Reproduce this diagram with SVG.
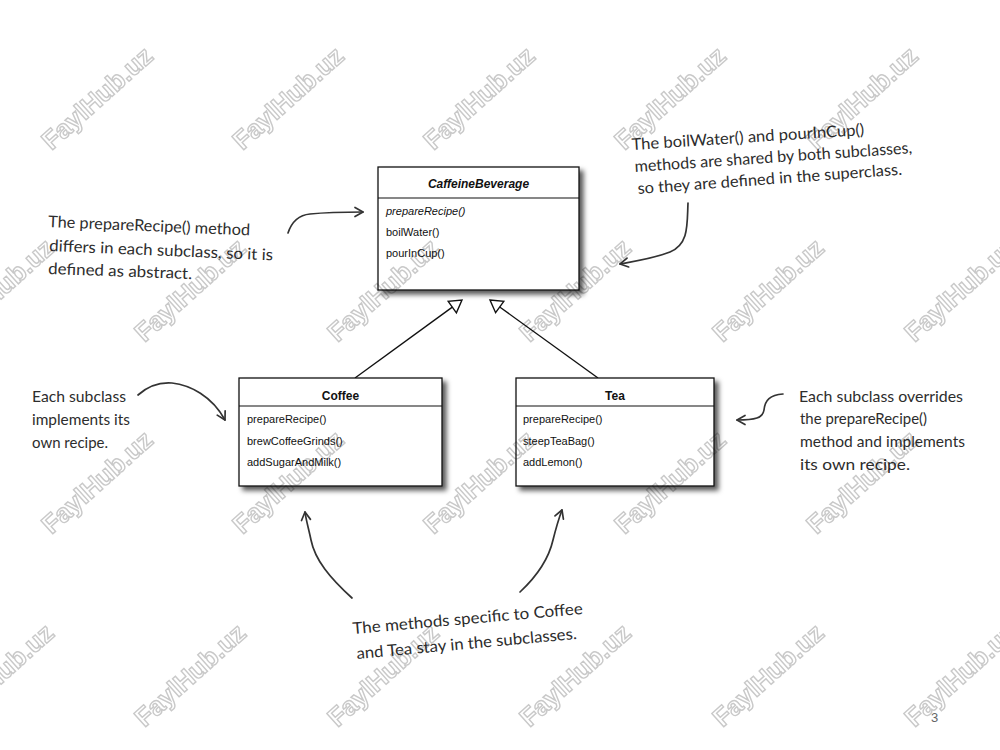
<svg xmlns="http://www.w3.org/2000/svg" width="1000" height="750" viewBox="0 0 1000 750">
  <style>
    .box { fill: #ffffff; stroke: #111; stroke-width: 1.3; }
    .sep { stroke: #111; stroke-width: 1.1; }
    .title { font-family: "Liberation Sans", Arial, sans-serif; font-size: 12px; font-weight: bold; fill: #111; text-anchor: middle; }
    .meth { font-family: "Liberation Sans", Arial, sans-serif; font-size: 11px; fill: #111; }
    .note { font-family: "Lato", "Noto Sans", sans-serif; font-size: 16px; fill: #2d2d2d; }
    .hand { fill: none; stroke: #333; stroke-width: 1.7; stroke-linecap: round; }
    .inh { fill: none; stroke: #111; stroke-width: 1.4; }
    .tri { fill: #fff; stroke: #111; stroke-width: 1.4; stroke-linejoin: miter; }
    .wm { font-family: "Liberation Sans", Arial, sans-serif; font-size: 26px; font-weight: bold; fill: #ffffff; stroke: #c9c9c9; stroke-width: 1.4; text-anchor: middle; dominant-baseline: central; }
    .page { font-family: "Liberation Sans", Arial, sans-serif; font-size: 13px; fill: #666; }
  </style>
  <defs>
    <filter id="shadow" x="-10%" y="-10%" width="125%" height="130%">
      <feDropShadow dx="4" dy="4" stdDeviation="2.5" flood-color="#000" flood-opacity="0.65"/>
    </filter>
    <marker id="open" viewBox="0 0 12 12" refX="10" refY="6" markerWidth="12" markerHeight="12" markerUnits="userSpaceOnUse" orient="auto">
      <path d="M2,1.5 L10,6 L2,10.5" fill="none" stroke="#333" stroke-width="1.7" stroke-linecap="round" stroke-linejoin="round"/>
    </marker>
  </defs>
  <rect width="1000" height="750" fill="#ffffff"/>

  <g id="connectors">
    <line class="inh" x1="355" y1="378" x2="452.3" y2="307.1"/>
    <polygon class="tri" points="462,300 456.4,312.8 448.2,301.4"/>
    <line class="inh" x1="598" y1="378" x2="499.7" y2="307"/>
    <polygon class="tri" points="490,300 503.8,301.3 495.6,312.7"/>
    <path class="hand" d="M288,233 C292,221 299,215 310,214 C330,212 345,212 363,212" marker-end="url(#open)"/>
    <path class="hand" d="M688,203 C687,225 689,244 670,252 C655,258 636,261 620,264" marker-end="url(#open)"/>
    <path class="hand" d="M138,395 C148,386 158,382 172,383 C190,385 212,396 225,420" marker-end="url(#open)"/>
    <path class="hand" d="M783,394 C770,395 765,400 764,410 C763,418 755,420 737,420" marker-end="url(#open)"/>
    <path class="hand" d="M352,598 C330,578 315,560 311,540 C309,530 306,520 305,512" marker-end="url(#open)"/>
    <path class="hand" d="M520,592 C535,578 548,562 553,540 C556,528 559,518 562,510" marker-end="url(#open)"/>
  </g>

  <g id="CaffeineBeverage">
    <rect class="box" x="378" y="167" width="201" height="123" filter="url(#shadow)"/>
    <line class="sep" x1="378" y1="198" x2="579" y2="198"/>
    <text class="title" x="478.5" y="188" font-style="italic">CaffeineBeverage</text>
    <text class="meth" x="386" y="215" font-style="italic">prepareRecipe()</text>
    <text class="meth" x="386" y="236">boilWater()</text>
    <text class="meth" x="386" y="257">pourInCup()</text>
  </g>

  <g id="Coffee">
    <rect class="box" x="239" y="378" width="203" height="108" filter="url(#shadow)"/>
    <line class="sep" x1="239" y1="406" x2="442" y2="406"/>
    <text class="title" x="340.5" y="400">Coffee</text>
    <text class="meth" x="247" y="423">prepareRecipe()</text>
    <text class="meth" x="247" y="445">brewCoffeeGrinds()</text>
    <text class="meth" x="247" y="466">addSugarAndMilk()</text>
  </g>

  <g id="Tea">
    <rect class="box" x="516" y="378" width="198" height="108" filter="url(#shadow)"/>
    <line class="sep" x1="516" y1="406" x2="714" y2="406"/>
    <text class="title" x="615" y="400">Tea</text>
    <text class="meth" x="523" y="423">prepareRecipe()</text>
    <text class="meth" x="523" y="445">steepTeaBag()</text>
    <text class="meth" x="523" y="466">addLemon()</text>
  </g>

  <g id="note-abstract">
    <text class="note" x="48" y="227" transform="rotate(2.4 48 227)" textLength="202" lengthAdjust="spacingAndGlyphs">The prepareRecipe() method</text>
    <text class="note" x="49" y="251" transform="rotate(2.4 49 251)" textLength="224" lengthAdjust="spacingAndGlyphs">differs in each subclass, so it is</text>
    <text class="note" x="48" y="274" transform="rotate(2 48 274)" textLength="144" lengthAdjust="spacingAndGlyphs">defined as abstract.</text>
  </g>

  <g id="note-shared">
    <text class="note" x="632" y="150" transform="rotate(-3.7 632 150)" textLength="233" lengthAdjust="spacingAndGlyphs">The boilWater() and pourInCup()</text>
    <text class="note" x="635" y="172" transform="rotate(-3.9 635 172)" textLength="278" lengthAdjust="spacingAndGlyphs">methods are shared by both subclasses,</text>
    <text class="note" x="638" y="194" transform="rotate(-4.2 638 194)" textLength="265" lengthAdjust="spacingAndGlyphs">so they are defined in the superclass.</text>
  </g>

  <g id="note-implements">
    <text class="note" x="32" y="402" textLength="94" lengthAdjust="spacingAndGlyphs">Each subclass</text>
    <text class="note" x="32" y="425" textLength="98" lengthAdjust="spacingAndGlyphs">implements its</text>
    <text class="note" x="32" y="448" textLength="76" lengthAdjust="spacingAndGlyphs">own recipe.</text>
  </g>

  <g id="note-overrides">
    <text class="note" x="799" y="402" textLength="164" lengthAdjust="spacingAndGlyphs">Each subclass overrides</text>
    <text class="note" x="800" y="424" textLength="127" lengthAdjust="spacingAndGlyphs">the prepareRecipe()</text>
    <text class="note" x="800" y="447" textLength="165" lengthAdjust="spacingAndGlyphs">method and implements</text>
    <text class="note" x="800" y="470" textLength="110" lengthAdjust="spacingAndGlyphs">its own recipe.</text>
  </g>

  <g id="note-specific">
    <text class="note" x="353" y="634" transform="rotate(-5 353 634)" textLength="231" lengthAdjust="spacingAndGlyphs">The methods specific to Coffee</text>
    <text class="note" x="357" y="659" transform="rotate(-5.2 357 659)" textLength="221" lengthAdjust="spacingAndGlyphs">and Tea stay in the subclasses.</text>
  </g>

  <text class="page" x="931" y="722">3</text>

  <g id="watermarks" style="mix-blend-mode:multiply">
    <text class="wm" transform="translate(97,98) rotate(-42)">FaylHub.uz</text>
    <text class="wm" transform="translate(288,98) rotate(-42)">FaylHub.uz</text>
    <text class="wm" transform="translate(479,98) rotate(-42)">FaylHub.uz</text>
    <text class="wm" transform="translate(670,98) rotate(-42)">FaylHub.uz</text>
    <text class="wm" transform="translate(862,98) rotate(-42)">FaylHub.uz</text>
    <text class="wm" transform="translate(-2,290) rotate(-42)">FaylHub.uz</text>
    <text class="wm" transform="translate(190,290) rotate(-42)">FaylHub.uz</text>
    <text class="wm" transform="translate(383,290) rotate(-42)">FaylHub.uz</text>
    <text class="wm" transform="translate(575,290) rotate(-42)">FaylHub.uz</text>
    <text class="wm" transform="translate(768,290) rotate(-42)">FaylHub.uz</text>
    <text class="wm" transform="translate(960,290) rotate(-42)">FaylHub.uz</text>
    <text class="wm" transform="translate(97,482) rotate(-42)">FaylHub.uz</text>
    <text class="wm" transform="translate(288,482) rotate(-42)">FaylHub.uz</text>
    <text class="wm" transform="translate(479,482) rotate(-42)">FaylHub.uz</text>
    <text class="wm" transform="translate(670,482) rotate(-42)">FaylHub.uz</text>
    <text class="wm" transform="translate(862,482) rotate(-42)">FaylHub.uz</text>
    <text class="wm" transform="translate(-2,675) rotate(-42)">FaylHub.uz</text>
    <text class="wm" transform="translate(190,675) rotate(-42)">FaylHub.uz</text>
    <text class="wm" transform="translate(383,675) rotate(-42)">FaylHub.uz</text>
    <text class="wm" transform="translate(575,675) rotate(-42)">FaylHub.uz</text>
    <text class="wm" transform="translate(768,675) rotate(-42)">FaylHub.uz</text>
    <text class="wm" transform="translate(960,675) rotate(-42)">FaylHub.uz</text>
  </g>
</svg>
